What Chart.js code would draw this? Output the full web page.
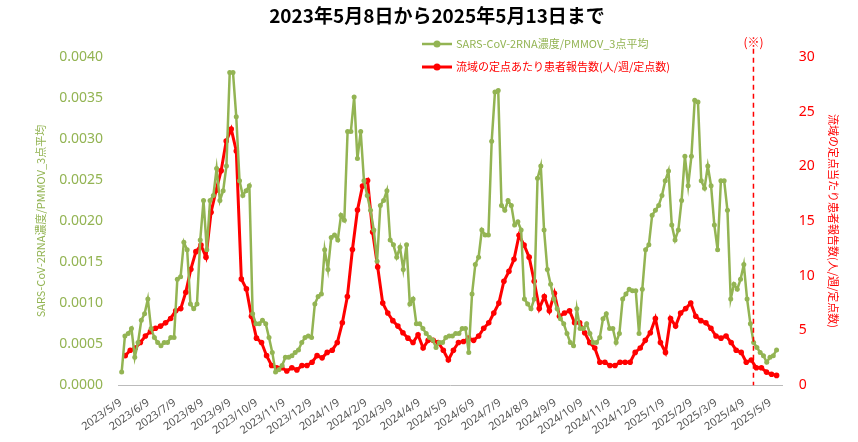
<!DOCTYPE html>
<html>
<head>
<meta charset="utf-8">
<title>SARS-CoV-2 RNA</title>
<script src="https://cdn.jsdelivr.net/npm/chart.js@4.4.1/dist/chart.umd.min.js"></script>
<style>
body{margin:0;background:#fff;}
#wrap{width:858px;height:442px;}
</style>
</head>
<body>
<div id="wrap"><canvas id="myChart" width="858" height="442"></canvas></div>
<script>
// days counted from 2023/5/9
var startDate = new Date(2023, 4, 9);
var greenFirstDay = 1, greenLastDay = 738;
var redFirstDay = 5, redLastDay = 738;
var noteDay = 712;

var greenValues = [0.00016,0.00060,0.00063,0.00069,0.00034,0.00052,0.00079,0.00087,0.00105,0.00069,0.00058,0.00052,0.00048,0.00052,0.00052,0.00058,0.00058,0.00129,0.00132,0.00174,0.00165,0.00099,0.00093,0.00099,0.00177,0.00225,0.00165,0.00225,0.00231,0.00264,0.00225,0.00237,0.00267,0.00381,0.00381,0.00327,0.00249,0.00231,0.00237,0.00243,0.00087,0.00075,0.00075,0.00079,0.00075,0.00058,0.00040,0.00016,0.00019,0.00024,0.00034,0.00034,0.00036,0.00040,0.00043,0.00052,0.00058,0.00060,0.00058,0.00099,0.00108,0.00111,0.00165,0.00141,0.00180,0.00183,0.00177,0.00207,0.00201,0.00309,0.00309,0.00351,0.00276,0.00309,0.00249,0.00231,0.00213,0.00189,0.00151,0.00219,0.00225,0.00237,0.00177,0.00171,0.00156,0.00168,0.00141,0.00171,0.00099,0.00105,0.00075,0.00075,0.00069,0.00063,0.00058,0.00055,0.00046,0.00052,0.00052,0.00058,0.00060,0.00060,0.00063,0.00063,0.00069,0.00069,0.00040,0.00111,0.00147,0.00156,0.00189,0.00183,0.00183,0.00297,0.00357,0.00359,0.00219,0.00213,0.00225,0.00219,0.00195,0.00199,0.00189,0.00105,0.00099,0.00093,0.00105,0.00252,0.00267,0.00189,0.00141,0.00123,0.00105,0.00093,0.00081,0.00075,0.00063,0.00052,0.00048,0.00093,0.00069,0.00069,0.00075,0.00063,0.00052,0.00052,0.00058,0.00081,0.00087,0.00069,0.00069,0.00052,0.00063,0.00105,0.00111,0.00117,0.00115,0.00115,0.00063,0.00117,0.00165,0.00171,0.00207,0.00213,0.00219,0.00231,0.00249,0.00261,0.00195,0.00177,0.00189,0.00225,0.00279,0.00243,0.00279,0.00347,0.00345,0.00249,0.00240,0.00267,0.00243,0.00195,0.00165,0.00249,0.00249,0.00213,0.00105,0.00123,0.00117,0.00129,0.00147,0.00105,0.00075,0.00052,0.00046,0.00040,0.00036,0.00028,0.00034,0.00036,0.00043];

var redValues = [2.7,3.2,3.4,3.9,4.5,4.9,5.2,5.4,5.7,6.1,6.8,7.0,8.5,10.6,12.2,12.8,11.7,15.8,17.8,19.6,22.3,23.4,21.4,9.7,8.8,6.3,4.3,3.9,2.7,1.8,1.6,1.6,1.3,1.6,1.4,1.8,1.8,2.1,2.7,2.5,3.0,3.2,3.9,5.7,8.1,12.4,16.0,18.2,18.7,14.0,10.8,7.5,6.6,5.9,5.4,4.8,4.3,3.9,4.6,3.4,4.1,4.1,3.9,3.2,2.3,3.2,3.9,4.0,4.3,4.1,4.5,5.2,5.7,6.6,7.5,9.5,10.4,11.5,13.7,12.8,11.7,9.5,7.0,8.1,6.8,8.4,6.3,6.6,6.8,5.7,5.7,4.8,3.9,3.4,2.1,2.1,1.8,1.8,2.1,2.1,2.1,3.0,3.4,4.1,4.8,6.1,3.9,3.0,6.1,5.4,6.6,7.0,7.5,6.3,5.9,5.7,5.2,4.5,4.3,4.5,3.9,3.2,3.0,2.1,2.3,1.6,1.6,1.2,1.0,0.9];

var greenLabel = "SARS-CoV-2RNA濃度/PMMOV_3点平均";
var redLabel = "流域の定点あたり患者報告数(人/週/定点数)";
var leftTitle = "SARS-CoV-2RNA濃度/PMMOV_3点平均";
var rightTitle = "流域の定点当たり患者報告数(人/週/定点数)";
var GREEN = "#93b453", RED = "#ff0000";

function spread(values, first, last){
    var step = (last - first) / (values.length - 1);
    return values.map(function(v, i){ return {x: first + i*step, y: v}; });
}

// month tick positions (9th of each month)
var monthTicks = [], monthNames = {};
for (var m = 0; m <= 24; m++){
    var d = new Date(2023, 4 + m, 9);
    var day = Math.round((d - startDate) / 86400000);
    monthTicks.push(day);
    monthNames[day] = d.getFullYear() + "/" + (d.getMonth()+1) + "/9";
}

var extras = {
    id: 'extras',
    afterDraw: function(chart){
        var c = chart.ctx, x = chart.scales.x, a = chart.chartArea;
        var px = x.getPixelForValue(noteDay);
        c.save();
        c.strokeStyle = RED; c.lineWidth = 1.5; c.setLineDash([5,4]);
        c.beginPath(); c.moveTo(px, a.top - 8); c.lineTo(px, a.bottom); c.stroke();
        c.setLineDash([]);
        c.fillStyle = RED; c.font = "12px 'Noto Sans CJK JP'"; c.textAlign = "center";
        c.fillText("(※)", px, 47);
        // legend
        c.textAlign = "left"; c.textBaseline = "middle";
        c.font = "11px 'Noto Sans CJK JP'";
        var rows = [[GREEN, greenLabel, 44, 2.5], [RED, redLabel, 67, 3]];
        rows.forEach(function(r){
            c.strokeStyle = r[0]; c.lineWidth = r[3];
            c.beginPath(); c.moveTo(422, r[2]); c.lineTo(452, r[2]); c.stroke();
            c.fillStyle = r[0]; c.beginPath(); c.arc(437, r[2], 3.5, 0, Math.PI*2); c.fill();
            c.fillStyle = r[0];
            c.fillText(r[1], 456, r[2]);
        });
        c.restore();
    }
};

var ctx = document.getElementById("myChart").getContext("2d");
new Chart(ctx, {
    type: 'line',
    data: {
        datasets: [
            {label: greenLabel, data: spread(greenValues, greenFirstDay, greenLastDay), yAxisID: 'y',
             borderColor: GREEN, backgroundColor: GREEN, borderWidth: 2.5, pointRadius: 2.5, pointBorderWidth: 0, tension: 0},
            {label: redLabel, data: spread(redValues, redFirstDay, redLastDay), yAxisID: 'y1',
             borderColor: RED, backgroundColor: RED, borderWidth: 3, pointRadius: 2.8, pointBorderWidth: 0, tension: 0}
        ]
    },
    options: {
        responsive: false,
        animation: false,
        layout: {padding: {top: 4, right: 14, left: 30, bottom: 2}},
        plugins: {
            legend: {display: false},
            tooltip: {enabled: false},
            title: {display: true, text: "2023年5月8日から2025年5月13日まで", color: "#000",
                    font: {size: 19, weight: 'bold', family: "'Noto Sans CJK JP'"}, padding: {top: 0, bottom: 30}}
        },
        scales: {
            x: {
                type: 'linear', min: -2, max: 745,
                grid: {display: false},
                border: {color: "#bbb"},
                afterBuildTicks: function(s){ s.ticks = monthTicks.map(function(v){ return {value: v}; }); },
                ticks: {
                    autoSkip: false, maxRotation: 35, minRotation: 35, color: "#555",
                    font: {size: 11, family: "'Noto Sans'"},
                    callback: function(v){ return monthNames[v] || ""; }
                }
            },
            y: {
                position: 'left', min: 0, max: 0.004,
                grid: {display: false}, border: {display: false},
                ticks: {stepSize: 0.0005, color: GREEN, padding: 8, font: {size: 14, family: "'Noto Sans'"},
                        callback: function(v){ return v.toFixed(4); }},
                title: {display: true, text: leftTitle, color: GREEN, font: {size: 11, family: "'Noto Sans CJK JP'"}}
            },
            y1: {
                position: 'right', min: 0, max: 30,
                grid: {display: false}, border: {display: false},
                ticks: {stepSize: 5, color: RED, padding: 8, font: {size: 14, family: "'Noto Sans'"}},
                title: {display: true, text: rightTitle, color: RED, font: {size: 11, family: "'Noto Sans CJK JP'"}}
            }
        }
    },
    plugins: [extras]
});
</script>
</body>
</html>
